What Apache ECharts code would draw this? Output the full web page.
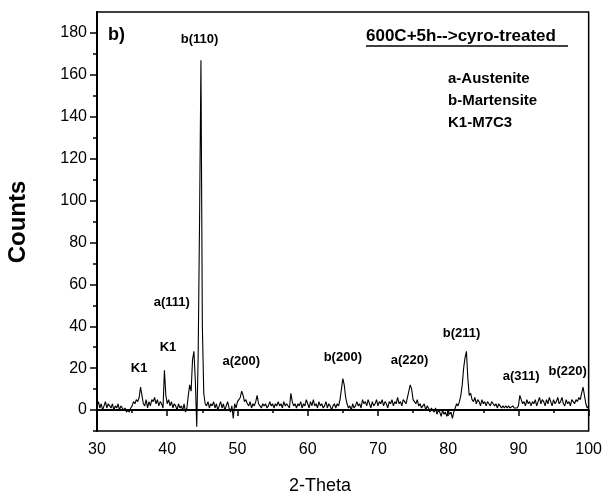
<!DOCTYPE html>
<html>
<head>
<meta charset="utf-8">
<script src="https://cdn.jsdelivr.net/npm/echarts@6/dist/echarts.min.js"></script>
<style>
  html, body { margin: 0; padding: 0; background: #fff; }
  #echart { width: 605px; height: 497px; }
</style>
</head>
<body>
<div id="echart"></div>
<script>
// 2-Theta grid of the scan
var thetaStart = 30;
var thetaStep = 0.2;

// counts, one row = 2 degrees (10 points)
var counts = [
    2, 4, 1, 3, 0, 2, 4, 1, 3, 2,        // 30
    1, 3, 0, 2, 1, 3, 0, 2, 1, 0,        // 32
    1, -1, 0, -1, 1, 2, 4, 3, 5, 4,      // 34
    6, 11, 7, 3, 2, 5, 1, 4, 2, 5,       // 36
    4, 6, 3, 5, 2, 4, 3, 1, 19, 7,       // 38
    3, 5, 2, 4, 1, 3, 2, 0, 3, 1,        // 40
    2, 0, 3, -1, 1, 7, 12, 9, 24, 28,    // 42
    14, -8, 25, 90, 167, 40, 8, 3, 2, 4, // 44
    1, 3, 2, 4, 1, 3, 0, 2, 4, 1,        // 46
    3, 0, 2, 4, 1, -1, 2, -4, 3, 1,      // 48
    4, 5, 6, 9, 7, 4, 5, 3, 2, 4,        // 50
    1, 3, 2, 4, 7, 3, 2, 1, 3, 2,        // 52
    3, 1, 2, 4, 2, 3, 1, 3, 2, 4,        // 54
    2, 3, 1, 4, 2, 3, 3, 1, 8, 4,        // 56
    2, 3, 1, 3, 2, 4, 1, 3, 2, 5,        // 58
    3, 1, 4, 2, 5, 2, 3, 1, 4, 2,        // 60
    3, 1, 2, 4, 1, 3, 2, 0, 2, 3,        // 62
    1, 3, 2, 5, 10, 15, 12, 6, 3, 1,     // 64
    2, 0, 3, 1, 2, 4, 2, 3, 1, 5,        // 66
    3, 4, 2, 5, 3, 1, 4, 2, 3, 5,        // 68
    2, 4, 3, 5, 2, 4, 3, 1, 4, 3,        // 70
    5, 2, 4, 3, 6, 3, 4, 2, 5, 4,        // 72
    3, 6, 9, 12, 10, 5, 4, 3, 5, 2,      // 74
    3, 1, 2, 3, 0, 2, 1, -1, 1, 0,       // 76
    -1, 1, -2, 0, -1, -3, 0, -2, -1, -3, // 78
    0, -2, -1, -4, -1, 1, 3, 2, 4, 7,    // 80
    12, 20, 25, 28, 15, 7, 8, 5, 4, 6,   // 82
    3, 5, 4, 2, 5, 3, 4, 2, 4, 3,        // 84
    2, 4, 3, 2, 3, 1, 3, 2, 1, 2,        // 86
    1, 2, 1, 2, 1, 1, 2, 1, 1, 1,        // 88
    2, 7, 5, 3, 4, 2, 5, 3, 4, 2,        // 90
    4, 3, 5, 2, 4, 6, 3, 5, 4, 2,        // 92
    5, 3, 6, 4, 2, 5, 3, 4, 6, 3,        // 94
    4, 6, 3, 2, 5, 3, 4, 2, 5, 4,        // 96
    3, 5, 4, 6, 5, 8, 11, 7, 3, 1,       // 98
    2                                    // 100
];

// peak labels [2-theta, counts, text]
var peakLabels = [
    [44.6, 177, 'b(110)'],
    [40.65, 51.5, 'a(111)'],
    [36.0, 19.7, 'K1'],
    [40.1, 29.7, 'K1'],
    [50.55, 23.4, 'a(200)'],
    [65.0, 25, 'b(200)'],
    [74.5, 23.6, 'a(220)'],
    [81.9, 36.8, 'b(211)'],
    [90.4, 16.2, 'a(311)'],
    [97.0, 18.6, 'b(220)']
];

var xTicks = [30, 40, 50, 60, 70, 80, 90, 100];
var yMajorTicks = [0, 20, 40, 60, 80, 100, 120, 140, 160, 180];
var yMinorTicks = [-10, 10, 30, 50, 70, 90, 110, 130, 150, 170];

var fontFam = 'Liberation Sans, Arial, sans-serif';

var myChart = echarts.init(document.getElementById('echart'));

var pattern = [];
for (var i = 0; i < counts.length; i++) {
    pattern.push([+(thetaStart + i * thetaStep).toFixed(2), counts[i]]);
}

var option = {
    animation: false,
    backgroundColor: '#fff',
    grid: {
        left: 97, right: 15, top: 12, bottom: 66,
        show: true, borderColor: '#000', borderWidth: 1.5
    },
    xAxis: {
        type: 'value',
        min: 30, max: 100, interval: 10,
        axisLine: { show: true, lineStyle: { color: '#000', width: 2 } },
        axisTick: { show: true, length: 6, lineStyle: { color: '#000', width: 1.5 } },
        minorTick: { show: true, splitNumber: 2, length: 3, lineStyle: { color: '#000', width: 1.5 } },
        axisLabel: { color: '#000', fontSize: 16, fontFamily: fontFam, margin: 11, customValues: xTicks },
        splitLine: { show: false }
    },
    yAxis: [
        {
            type: 'value',
            min: -10, max: 190,
            axisLine: { show: true, lineStyle: { color: '#000', width: 2 } },
            axisTick: { show: true, length: 7, customValues: yMajorTicks, lineStyle: { color: '#000', width: 1.5 } },
            axisLabel: { color: '#000', fontSize: 16, fontFamily: fontFam, margin: 10, customValues: yMajorTicks },
            splitLine: { show: false }
        },
        {
            type: 'value',
            position: 'left',
            min: -10, max: 190,
            axisLine: { show: false },
            axisTick: { show: true, length: 4, customValues: yMinorTicks, lineStyle: { color: '#000', width: 1.5 } },
            axisLabel: { show: false },
            splitLine: { show: false }
        }
    ],
    series: [
        {
            type: 'line',
            data: pattern,
            showSymbol: false,
            symbol: 'none',
            lineStyle: { color: '#000', width: 1.1 },
            silent: true
        },
        {
            type: 'scatter',
            data: peakLabels,
            symbolSize: 0,
            silent: true,
            itemStyle: { opacity: 1 },
            label: {
                show: true,
                position: 'inside',
                formatter: function (p) { return p.value[2]; },
                color: '#000',
                opacity: 1,
                fontSize: 13,
                fontWeight: 'bold',
                fontFamily: fontFam
            }
        }
    ],
    graphic: [
        { type: 'text', left: 108, top: 26, style: { text: 'b)', fontSize: 18, fontWeight: 'bold', fontFamily: fontFam, fill: '#000' } },
        { type: 'text', left: 366, top: 28, style: { text: '600C+5h-->cyro-treated', fontSize: 17, fontWeight: 'bold', fontFamily: fontFam, fill: '#000' } },
        { type: 'line', shape: { x1: 366, y1: 46, x2: 568, y2: 46 }, style: { stroke: '#000', lineWidth: 1.3 } },
        { type: 'text', left: 448, top: 71, style: { text: 'a-Austenite', fontSize: 15, fontWeight: 'bold', fontFamily: fontFam, fill: '#000' } },
        { type: 'text', left: 448, top: 93, style: { text: 'b-Martensite', fontSize: 15, fontWeight: 'bold', fontFamily: fontFam, fill: '#000' } },
        { type: 'text', left: 448, top: 115, style: { text: 'K1-M7C3', fontSize: 15, fontWeight: 'bold', fontFamily: fontFam, fill: '#000' } },
        {
            type: 'text', x: 18, y: 222, rotation: Math.PI / 2,
            style: { text: 'Counts', fontSize: 24, fontWeight: 'bold', fontFamily: fontFam, fill: '#000', align: 'center', verticalAlign: 'middle' }
        },
        {
            type: 'text', x: 320, y: 486,
            style: { text: '2-Theta', fontSize: 18, fontFamily: fontFam, fill: '#000', align: 'center', verticalAlign: 'middle' }
        }
    ]
};

myChart.setOption(option);
</script>
</body>
</html>
